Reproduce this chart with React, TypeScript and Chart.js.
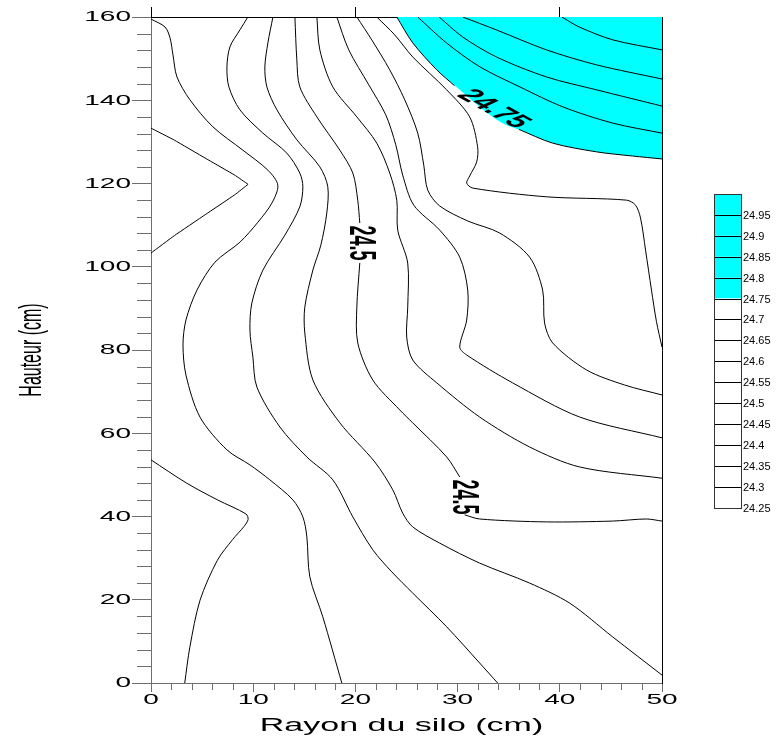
import React, { useEffect, useRef } from 'react';
import { Chart, registerables } from 'chart.js';

Chart.register(...registerables);

type Pt = [number, number];

// ---------- axis definitions ----------
const xAxisTitle = 'Rayon du silo (cm)';
const yAxisTitle = 'Hauteur (cm)';
const xMin = 0, xMax = 50, xMajorStep = 10, xMinorStep = 2;
const yMin = 0, yMax = 160, yMajorStep = 20, yMinorStep = 4;
const topTickStep = 20;

// ---------- colour scale (legend) ----------
const legendLevels = ['24.95', '24.9', '24.85', '24.8', '24.75', '24.7', '24.65', '24.6', '24.55', '24.5', '24.45', '24.4', '24.35', '24.3', '24.25'];
const legendColors = ['#00ffff', '#00ffff', '#00ffff', '#00ffff', '#00ffff', '#ffffff', '#ffffff', '#ffffff', '#ffffff', '#ffffff', '#ffffff', '#ffffff', '#ffffff', '#ffffff', '#ffffff'];

// ---------- contour lines (x = rayon cm, y = hauteur cm) ----------
const wedgeUpperA: Pt[] = [[0, 133.3], [2.3, 130.4], [5.3, 126.1], [8.2, 122.0], [9.5, 119.8]];
const wedgeUpperB: Pt[] = [[9.5, 119.8], [8.2, 117.3], [5.3, 112.5], [2.3, 107.5], [0, 103.3]];
const wedgeLower: Pt[] = [[0, 53.6], [3.5, 48.0], [6.5, 44.0], [9.3, 40.6], [9.5, 39.3], [9.1, 37.6], [8.0, 34.5], [6.5, 29.5], [4.8, 19.9], [3.8, 8.6], [3.3, 0]];

const line0: Pt[] = [[0, 159.5], [1.37, 157.6], [1.86, 155.0], [2.15, 150.9], [2.54, 145.6], [3.81, 140.1], [6.06, 133.6], [8.99, 128.0], [11.44, 123.2], [12.41, 119.6], [11.83, 115.3], [10.46, 110.7], [8.7, 105.9], [6.26, 101.1], [4.5, 94.4], [3.42, 87.2], [3.13, 81.2], [3.42, 74.0], [4.79, 63.9], [7.43, 56.0], [9.68, 52.4], [11.63, 48.8], [13.88, 44.0], [14.86, 39.9], [15.25, 35.1], [15.54, 25.5], [16.81, 15.9], [18.67, 0]];
const line1: Pt[] = [[9.48, 160], [8.7, 156.9], [7.72, 152.8], [7.43, 148.0], [7.62, 143.2], [8.7, 137.7], [10.95, 132.1], [13.29, 127.3], [14.56, 122.5], [14.86, 119.2], [14.56, 114.4], [13.1, 107.6], [10.95, 99.2], [9.87, 91.3], [9.68, 84.8], [9.97, 78.3], [10.36, 71.1], [12.61, 61.5], [15.25, 54.3], [17.79, 48.8], [19.75, 39.9], [21.7, 32.0], [23.56, 26.7], [25.61, 21.6], [28.93, 13.5], [32.16, 4.8], [33.92, 0]];
const line2: Pt[] = [[11.93, 160], [11.44, 153.8], [11.14, 148.0], [11.34, 143.2], [12.32, 137.7], [14.27, 130.5], [16.52, 124.0], [17.3, 119.2], [17.2, 112.9], [16.62, 105.2], [15.84, 99.2], [15.05, 90.3], [15.05, 84.1], [15.84, 72.8], [18.48, 62.5], [21.9, 53.1], [23.66, 46.4], [24.63, 40.8], [25.61, 37.5], [28.25, 33.6], [32.16, 28.8], [37.05, 24.0], [40.96, 19.2], [45.16, 11.1], [50, 1.9]];
const level245A: Pt[] = [[14.08, 160], [14.27, 149.7], [14.56, 143.2], [16.23, 136.0], [18.48, 128.0], [19.75, 122.5], [20.23, 116.0], [20.43, 110.5]];
const level245B: Pt[] = [[20.43, 100.9], [20.14, 90.3], [20.23, 81.7], [21.7, 72.8], [24.34, 65.6], [25.61, 62.5], [28.93, 54.3], [30.21, 49.5]];
const level245C: Pt[] = [[30.69, 40.4], [32.16, 39.4], [38.71, 38.7], [45.16, 38.9], [48.48, 39.4], [50, 38.9]];
const line4: Pt[] = [[16.23, 160], [16.52, 152.1], [17.79, 143.2], [20.14, 136.0], [22.09, 129.7], [23.36, 122.5], [24.05, 116.0], [24.14, 108.8], [25.12, 100.9], [25.12, 90.3], [25.02, 83.1], [25.61, 77.6], [27.96, 72.1], [32.16, 63.9], [37.05, 56.7], [41.94, 51.9], [50, 49.2]];
const line5: Pt[] = [[18.18, 160], [19.35, 152.1], [21.31, 143.7], [22.97, 136.5], [23.95, 129.3], [24.63, 122.0], [25.71, 114.8], [28.25, 108.8], [30.21, 102.3], [30.99, 94.4], [30.89, 87.2], [30.21, 80.7], [30.89, 78.8], [35.39, 72.1], [41.94, 63.9], [50, 58.9]];
const line6: Pt[] = [[20.14, 160], [21.6, 154.5], [23.36, 147.3], [24.83, 140.1], [26.1, 132.1], [26.69, 124.4], [27.08, 118.4], [28.25, 114.6], [30.99, 111.0], [34.12, 108.1], [37.05, 102.3], [38.32, 94.4], [38.51, 86.5], [39.3, 81.7], [42.62, 75.2], [46.33, 71.6], [50, 69.2]];
const line7: Pt[] = [[22.09, 160], [23.85, 155.7], [25.61, 150.4], [28.93, 142.5], [31.18, 136.0], [31.96, 128.8], [31.87, 125.2], [31.18, 121.8], [30.89, 120.1], [31.48, 118.9], [38.71, 116.8], [46.53, 116.0], [47.41, 114.8], [47.9, 111.7], [48.39, 104.0], [48.97, 94.4], [49.46, 86.8], [50, 80.7]];

// 24.75 contour: edge of the cyan zone
const cyanEdge: Pt[] = [[24.05, 160], [25.61, 153.8], [27.96, 147.3], [30.21, 142.5], [32.16, 138.4], [34.41, 134.5], [36.07, 132.9], [39.3, 129.7], [43.6, 127.6], [47.12, 126.6], [50, 125.9]];
const level2475A: Pt[] = [[24.05, 160], [25.61, 153.8], [27.96, 147.3], [29.7, 143.5]];
const level2475B: Pt[] = [[36.0, 133.0], [39.3, 129.7], [43.6, 127.6], [47.12, 126.6], [50, 125.9]];
const level248: Pt[] = [[26.1, 160], [28.9, 153.8], [32.2, 148.0], [36.1, 143.2], [40.3, 138.4], [45.2, 134.5], [50, 132.1]];
const level2485: Pt[] = [[28.2, 160], [30.5, 155.2], [33.8, 150.4], [38.7, 145.6], [43.6, 142.5], [50, 138.6]];
const level249: Pt[] = [[30.5, 160], [33.8, 156.9], [38.7, 152.1], [43.6, 148.5], [50, 145.1]];
const level2495: Pt[] = [[40.2, 160], [41.9, 157.6], [45.2, 154.5], [50, 152.1]];

// contour labels
const labelTexts = ['24.5', '24.5', '24.75'];
const labelPoints: Pt[] = [[20.43, 105.7], [30.5, 44.7], [33.5, 137.9]];
const labelAnglesDeg = [90, 90, 48];

const FONT = '"Liberation Sans", Arial, Helvetica, sans-serif';
const AXIS_GRAY = '#6e6e6e';
const SQUASH = 0.5;

function drawText(ctx: CanvasRenderingContext2D, text: string, x: number, y: number, size: number, weight: string, k: number, angle: number, align: CanvasTextAlign, baseline: CanvasTextBaseline) {
  ctx.save();
  ctx.translate(x, y);
  ctx.scale(1, k);
  ctx.rotate(angle);
  ctx.font = `${weight} ${size}px ${FONT}`;
  ctx.textAlign = align;
  ctx.textBaseline = baseline;
  ctx.fillStyle = '#000';
  ctx.fillText(text, 0, 0);
  ctx.restore();
}

const decorPlugin = {
  id: 'decor',
  afterDraw(chart: any) {
    const ctx: CanvasRenderingContext2D = chart.ctx;
    const xs = chart.scales.x;
    const ys = chart.scales.y;
    const area = chart.chartArea;

    // minor ticks
    ctx.save();
    ctx.strokeStyle = AXIS_GRAY;
    ctx.lineWidth = 1;
    ctx.beginPath();
    for (let v = yMin; v <= yMax; v += yMinorStep) {
      if (v % yMajorStep === 0) continue;
      const py = Math.round(ys.getPixelForValue(v)) + 0.5;
      ctx.moveTo(area.left - 14, py);
      ctx.lineTo(area.left, py);
    }
    for (let v = xMin; v <= xMax; v += xMinorStep) {
      if (v % xMajorStep === 0) continue;
      const px = Math.round(xs.getPixelForValue(v)) + 0.5;
      ctx.moveTo(px, area.bottom);
      ctx.lineTo(px, area.bottom + 7);
    }
    ctx.stroke();
    ctx.restore();

    // tick labels (values from the chart scales)
    ys.ticks.forEach((t: any) => {
      drawText(ctx, String(t.label), area.left - 20, ys.getPixelForValue(t.value) + 0.5, 28, 'normal', SQUASH, 0, 'right', 'middle');
    });
    xs.ticks.forEach((t: any) => {
      drawText(ctx, String(t.label), xs.getPixelForValue(t.value), area.bottom + 17, 28, 'normal', SQUASH, 0, 'center', 'middle');
    });

    // axis titles
    drawText(ctx, xAxisTitle, (area.left + area.right) / 2 - 5, area.bottom + 48, 34, 'normal', 0.55, 0, 'center', 'alphabetic');
    drawText(ctx, yAxisTitle, 32, (area.top + area.bottom) / 2, 32, 'normal', SQUASH, -Math.PI / 2, 'center', 'middle');

    // contour labels
    labelTexts.forEach((txt, i) => {
      const px = xs.getPixelForValue(labelPoints[i][0]);
      const py = ys.getPixelForValue(labelPoints[i][1]);
      drawText(ctx, txt, px, py, 36, 'bold', SQUASH, (labelAnglesDeg[i] * Math.PI) / 180, 'center', 'middle');
    });

    // colour legend
    const bx = 714, bw = 27, by = 194, bh = 20.9;
    ctx.save();
    legendColors.forEach((c, i) => {
      ctx.fillStyle = c;
      ctx.fillRect(bx, by + i * bh, bw, bh);
    });
    ctx.strokeStyle = '#000';
    ctx.lineWidth = 1;
    ctx.beginPath();
    for (let i = 1; i < legendColors.length; i++) {
      const y = Math.round(by + i * bh) + 0.5;
      ctx.moveTo(bx, y);
      ctx.lineTo(bx + bw, y);
    }
    ctx.stroke();
    ctx.strokeStyle = '#333';
    ctx.strokeRect(bx + 0.5, by + 0.5, bw, Math.round(bh * legendColors.length));
    ctx.restore();
    legendLevels.forEach((lab, i) => {
      drawText(ctx, lab, bx + bw + 2, Math.round(by + (i + 1) * bh) + 0.5, 11, 'normal', 1, 0, 'left', 'middle');
    });
  },
};

function lineDs(pts: Pt[], tension = 0.3) {
  return {
    data: pts.map(([x, y]) => ({ x, y })),
    showLine: true,
    borderColor: '#000',
    borderWidth: 1,
    pointRadius: 0,
    pointHoverRadius: 0,
    tension,
    fill: false,
    xAxisID: 'x',
    yAxisID: 'y',
  };
}

export default function App() {
  const ref = useRef<HTMLCanvasElement | null>(null);

  useEffect(() => {
    if (!ref.current) return;
    const datasets: any[] = [
      lineDs(wedgeUpperA, 0.1),
      lineDs(wedgeUpperB, 0.1),
      lineDs(wedgeLower),
      lineDs(line0),
      lineDs(line1),
      lineDs(line2),
      lineDs(level245A),
      lineDs(level245B),
      lineDs(level245C),
      lineDs(line4),
      lineDs(line5),
      lineDs(line6),
      lineDs(line7),
      lineDs(level2475A),
      lineDs(level2475B),
      lineDs(level248),
      lineDs(level2485),
      lineDs(level249),
      lineDs(level2495),
      {
        data: cyanEdge.map(([x, y]) => ({ x, y })),
        showLine: true,
        borderColor: 'rgba(0,0,0,0)',
        borderWidth: 1,
        backgroundColor: '#00ffff',
        pointRadius: 0,
        tension: 0.3,
        fill: 'end',
        xAxisID: 'x',
        yAxisID: 'y',
      },
    ];

    const chart = new Chart(ref.current, {
      type: 'scatter',
      data: { datasets },
      options: {
        responsive: false,
        animation: false,
        devicePixelRatio: 1,
        layout: { padding: 0 },
        plugins: {
          legend: { display: false },
          tooltip: { enabled: false },
        },
        scales: {
          x: {
            type: 'linear',
            position: 'bottom',
            min: xMin,
            max: xMax,
            ticks: { stepSize: xMajorStep, display: false },
            grid: { display: true, drawOnChartArea: false, drawTicks: true, tickLength: 9, color: AXIS_GRAY, tickColor: AXIS_GRAY },
            border: { display: true, color: AXIS_GRAY, width: 1 },
            afterFit: (s: any) => { s.height = 53; },
          },
          y: {
            type: 'linear',
            position: 'left',
            min: yMin,
            max: yMax,
            ticks: { stepSize: yMajorStep, display: false },
            grid: { display: true, drawOnChartArea: false, drawTicks: true, tickLength: 19, color: AXIS_GRAY, tickColor: AXIS_GRAY },
            border: { display: true, color: AXIS_GRAY, width: 1 },
            afterFit: (s: any) => { s.width = 151; },
          },
          x2: {
            type: 'linear',
            position: 'top',
            min: xMin,
            max: xMax,
            ticks: { stepSize: topTickStep, display: false, includeBounds: false },
            grid: { display: true, drawOnChartArea: false, drawTicks: true, tickLength: 10, color: '#000', tickColor: '#000' },
            border: { display: true, color: '#000', width: 1 },
            afterFit: (s: any) => { s.height = 17; },
          },
          y2: {
            type: 'linear',
            position: 'right',
            min: yMin,
            max: yMax,
            ticks: { display: false },
            grid: { display: false },
            border: { display: true, color: '#000', width: 1 },
            afterFit: (s: any) => { s.width = 118; },
          },
        },
      } as any,
      plugins: [decorPlugin],
    });
    return () => chart.destroy();
  }, []);

  return (
    <div style={{ position: 'absolute', left: 0, top: 0, width: 780, height: 736, background: '#fff' }}>
      <canvas ref={ref} width={780} height={736} style={{ width: 780, height: 736, display: 'block' }} />
    </div>
  );
}
